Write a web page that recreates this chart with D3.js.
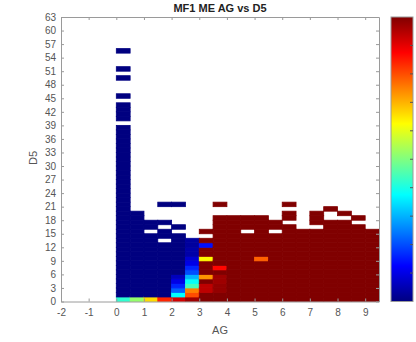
<!DOCTYPE html>
<html lang="en">
<head>
<meta charset="UTF-8">
<title>MF1 ME AG vs D5</title>
<script src="https://cdn.jsdelivr.net/npm/d3@7"></script>
<style>
    body { margin: 0; background: #fff; }
    text { font-family: Arial, "Liberation Sans", sans-serif; }
    .axis text { font-size: 10px; fill: #555; }
    .axis line, .axis path { stroke: #9a9a9a; }
</style>
</head>
<body>
<svg id="chart" width="416" height="342"></svg>
<script>
// left edge of each AG bin (bin width 0.5)
const agBins = [0, 0.5, 1, 1.5, 2, 2.5, 3, 3.5, 4, 4.5, 5, 5.5, 6, 6.5, 7, 7.5, 8, 8.5, 9];
// occupied D5 rows in each AG bin
const d5Rows = [
    "0-38,40-43,45,49,51,55", "0-19", "0-14,16-17", "0-12,14-15,17,21", "0-14,16,21",
    "0-13", "0-13,15", "0-18,21", "0-18", "0-14,16-18", "0-18", "0-14,16-17",
    "0-16,18-19,21", "0-15", "0-15,17-19", "0-17,20", "0-17,19", "0-16,18", "0-15"
];
// usual value of a bin (0 = low, 1 = high)
const baseLevel = [0, 0, 0, 0, 0, 0, 1, 1, 1, 1, 1, 1, 1, 1, 1, 1, 1, 1, 1];
// cells that differ: [AG, D5, value]
const specialCells = [
    [0, 0, 0.42], [0.5, 0, 0.52], [1, 0, 0.66], [1.5, 0, 0.84],
    [2, 0, 0.92], [2, 1, 0.375], [2, 2, 0.22], [2, 3, 0.16], [2, 4, 0.1], [2, 5, 0.06],
    [2.5, 0, 0.97], [2.5, 1, 0.8], [2.5, 2, 0.75], [2.5, 3, 0.44], [2.5, 4, 0.38],
    [2.5, 5, 0.3], [2.5, 6, 0.2], [2.5, 7, 0.16], [2.5, 8, 0.1], [2.5, 9, 0.08],
    [2.5, 10, 0.04], [2.5, 11, 0.04], [2.5, 12, 0.03], [2.5, 13, 0.03],
    [3, 2, 0.94], [3, 3, 0.94], [3, 5, 0.73], [3, 9, 0.63], [3, 12, 0.14],
    [3.5, 2, 0.98], [3.5, 3, 0.98], [3.5, 4, 0.97], [3.5, 5, 0.97], [3.5, 7, 0.87],
    [5, 9, 0.78]
];
const xTicks = [-2, -1, 0, 1, 2, 3, 4, 5, 6, 7, 8, 9];
const yTicks = [0, 3, 6, 9, 12, 15, 18, 21, 24, 27, 30, 33, 36, 39, 42, 45, 48, 51, 54, 57, 60, 63];

function jet(t) {
    const c = v => Math.round(255 * Math.max(0, Math.min(1, v)));
    return `rgb(${c(1.5 - Math.abs(4 * t - 3))},${c(1.5 - Math.abs(4 * t - 2))},${c(1.5 - Math.abs(4 * t - 1))})`;
}

// expand the bins into cells
let cells = [];
agBins.forEach((ag, i) => {
    d5Rows[i].split(",").forEach(part => {
        const [a, b] = part.split("-").map(Number);
        for (let r = a; r <= (b === undefined ? a : b); r++) {
            cells.push({ ag: ag, d5: r, v: baseLevel[i] });
        }
    });
});
specialCells.forEach(([ag, d5, v]) => {
    const c = cells.find(d => d.ag === ag && d.d5 === d5);
    if (c) c.v = v;
});

const svg = d3.select("#chart");
const mLeft = 61, mRight = 379, mTop = 17, mBottom = 301.5;

const x = d3.scaleLinear().domain([-2, 9.5]).range([mLeft, mRight]);
const y = d3.scaleLinear().domain([0, 63]).range([mBottom, mTop]);

svg.append("g")
    .selectAll("rect")
    .data(cells)
    .enter()
    .append("rect")
    .attr("x", d => x(d.ag))
    .attr("y", d => y(d.d5 + 1))
    .attr("width", d => x(d.ag + 0.5) - x(d.ag))
    .attr("height", d => y(d.d5) - y(d.d5 + 1))
    .attr("fill", d => jet(d.v))
    .attr("stroke", d => jet(d.v))
    .attr("stroke-width", 0.8);

// axes, ticks inward on all sides
const plain = d => String(d);
svg.append("g").attr("class", "axis")
    .attr("transform", `translate(0,${mBottom})`)
    .call(d3.axisBottom(x).tickValues(xTicks).tickSize(-3).tickSizeOuter(0).tickPadding(7).tickFormat(plain));
svg.append("g").attr("class", "axis")
    .attr("transform", `translate(0,${mTop})`)
    .call(d3.axisTop(x).tickValues(xTicks).tickSize(-3).tickSizeOuter(0).tickFormat(""));
svg.append("g").attr("class", "axis")
    .attr("transform", `translate(${mLeft},0)`)
    .call(d3.axisLeft(y).tickValues(yTicks).tickSize(-3).tickSizeOuter(0).tickPadding(5).tickFormat(plain));
svg.append("g").attr("class", "axis")
    .attr("transform", `translate(${mRight},0)`)
    .call(d3.axisRight(y).tickValues(yTicks).tickSize(-3).tickSizeOuter(0).tickFormat(""));

svg.append("text")
    .attr("x", (mLeft + mRight) / 2).attr("y", 12)
    .attr("text-anchor", "middle")
    .style("font-size", "11px").style("font-weight", "bold").style("fill", "#222")
    .text("MF1 ME AG vs D5");

svg.append("text")
    .attr("x", (mLeft + mRight) / 2).attr("y", 334)
    .attr("text-anchor", "middle")
    .style("font-size", "11px").style("fill", "#555")
    .text("AG");

svg.append("text")
    .attr("transform", "translate(37,158) rotate(-90)")
    .attr("text-anchor", "middle")
    .style("font-size", "11px").style("fill", "#555")
    .text("D5");

// colorbar
const cbX = 391, cbW = 22;
const grad = svg.append("defs").append("linearGradient")
    .attr("id", "jetgrad").attr("x1", 0).attr("y1", 1).attr("x2", 0).attr("y2", 0);
d3.range(0, 1.0001, 0.0625).forEach(t => {
    grad.append("stop").attr("offset", t).attr("stop-color", jet(t));
});
svg.append("rect")
    .attr("x", cbX).attr("y", mTop)
    .attr("width", cbW).attr("height", mBottom - mTop)
    .attr("fill", "url(#jetgrad)")
    .attr("stroke", "#9a9a9a").attr("stroke-width", 1);

const cb = d3.scaleLinear().domain([0, 1]).range([mBottom, mTop]);
svg.append("g")
    .selectAll("line")
    .data([0.1, 0.2, 0.3, 0.4, 0.5, 0.6, 0.7, 0.8, 0.9])
    .enter()
    .append("line")
    .attr("x1", cbX + cbW).attr("x2", cbX + cbW - 3)
    .attr("y1", d => cb(d)).attr("y2", d => cb(d))
    .attr("stroke", "#555");
</script>
</body>
</html>
